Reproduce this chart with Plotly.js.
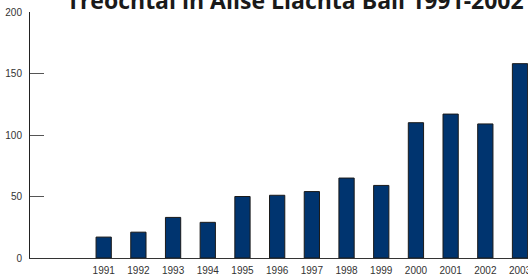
<!DOCTYPE html>
<html><head><meta charset="utf-8">
<script src="https://cdn.plot.ly/plotly-3.0.1.min.js"></script>
<style>html,body{margin:0;padding:0;background:#fff;}#chart{width:528px;height:280px;}</style>
</head><body><div id="chart"></div>
<script>
const years = [1991,1992,1993,1994,1995,1996,1997,1998,1999,2000,2001,2002,2003];
const values = [17,21,33,29,50,51,54,65,59,110,117,109,158];
const yTicks = [0,50,100,150,200];
const titleText = 'Treochtaí in Ailse Liachta Ball 1991-2002';

Plotly.newPlot('chart', [{
  type: 'bar', x: years, y: values, width: 0.44,
  marker: {color: '#00346f', line: {color: '#1a1a1a', width: 1}},
  hoverinfo: 'none'
}], {
  width: 528, height: 280,
  margin: {l: 30, r: 0, t: 12, b: 22},
  paper_bgcolor: '#fff', plot_bgcolor: '#fff',
  showlegend: false,
  title: {text: titleText, font: {family: 'Open Sans', size: 23, weight: 700, color: '#1a1a1a'},
          x: 0.559, xanchor: 'center', xref: 'container', y: 0.968, yanchor: 'bottom', yref: 'container'},
  xaxis: {range: [1988.876, 2003.23], tickvals: years, ticktext: years.map(String),
          showline: true, linecolor: '#333', linewidth: 1, ticks: '', showgrid: false, zeroline: false,
          ticklabeloverflow: 'allow', ticklabelstandoff: 3,
          tickfont: {family: 'Liberation Sans, Arial', size: 10, color: '#333'}, fixedrange: true},
  yaxis: {range: [0, 200], tickvals: yTicks, ticks: 'inside', ticklen: 14, tickcolor: '#555', tickwidth: 1,
          showline: true, linecolor: '#222', linewidth: 1, showgrid: false, zeroline: false,
          ticklabelstandoff: 5,
          tickfont: {family: 'Liberation Sans, Arial', size: 10, color: '#333'}, fixedrange: true}
}, {displayModeBar: false, staticPlot: true});
</script></body></html>
